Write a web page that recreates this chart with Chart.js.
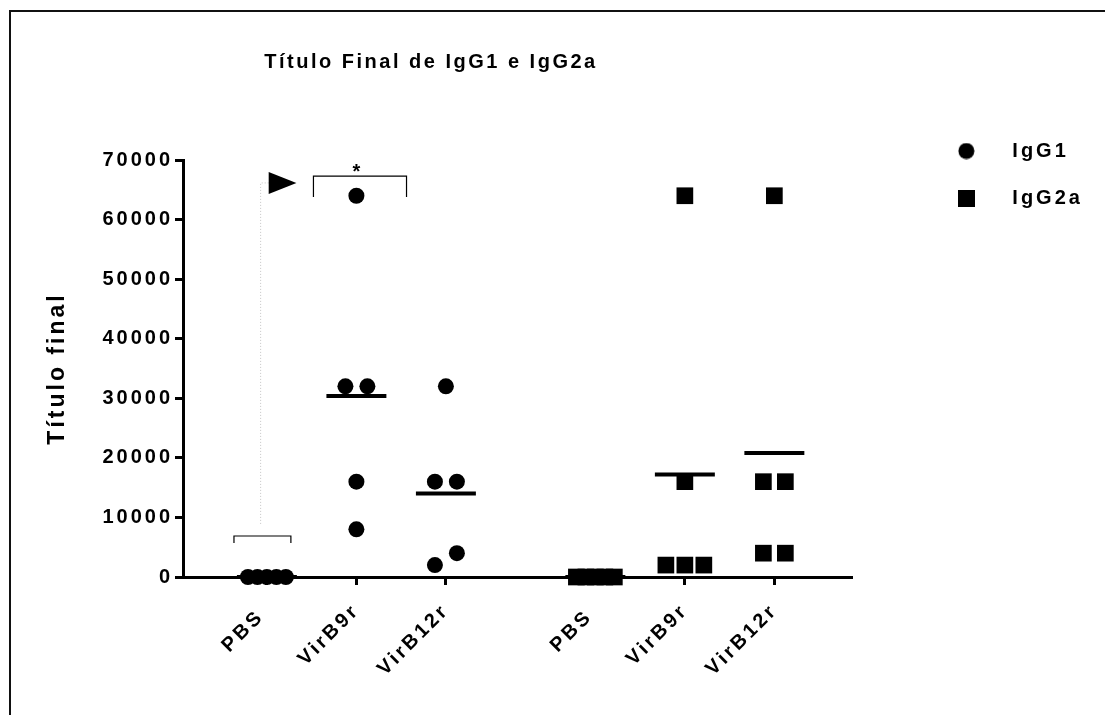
<!DOCTYPE html>
<html>
<head>
<meta charset="utf-8">
<title>Título Final de IgG1 e IgG2a</title>
<script src="https://cdn.jsdelivr.net/npm/chart.js@4.4.1/dist/chart.umd.min.js"></script>
<style>
  html, body { margin: 0; padding: 0; background: #fff; overflow: hidden; }
  #frame { position: absolute; left: 9px; top: 10px; width: 1200px; height: 800px;
           border-left: 2px solid #111; border-top: 2px solid #111; }
  #plot { position: absolute; left: 0; top: 0; }
</style>
</head>
<body>
<div id="frame"></div>
<canvas id="plot" width="1105" height="715"></canvas>
<script>
"use strict";

// values
const categories = ['PBS ', 'VirB9r', 'VirB12r', 'PBS ', 'VirB9r', 'VirB12r'];
const igg1 = [
  [0, 0, 0, 0, 0],
  [64000, 32000, 32000, 16000, 8000],
  [32000, 16000, 16000, 4000, 2000]
];
const igg2a = [
  [0, 0, 0, 0, 0],
  [64000, 16000, 2000, 2000, 2000],
  [64000, 16000, 16000, 4000, 4000]
];
const means = [0, 30400, 14000, 0, 17200, 20800];
const yTicks = [0, 10000, 20000, 30000, 40000, 50000, 60000, 70000];
const seriesNames = ['IgG1', 'IgG2a'];
const titleText = 'Título Final de IgG1 e IgG2a';
const yTitle = 'Título final';

// layout of the columns (x units)
const groupPos = [1, 2, 3, 4.67, 5.67, 6.67];
const pxPerUnit = 89.6;

// spread points that would overlap (like a column scatter)
function spread(values, centre) {
  const sorted = values.slice().sort((a, b) => a - b);
  const out = [];
  let i = 0;
  while (i < sorted.length) {
    let j = i;
    while (j + 1 < sorted.length && sorted[j + 1] - sorted[i] < 3000) j++;
    const n = j - i + 1;
    const step = n > 1 ? Math.min(22, 38 / (n - 1)) / pxPerUnit : 0;
    for (let k = 0; k < n; k++) {
      out.push({x: centre + (k - (n - 1) / 2) * step, y: sorted[i + k]});
    }
    i = j + 1;
  }
  return out;
}

const pts1 = [];
igg1.forEach((vals, g) => pts1.push(...spread(vals, groupPos[g])));
const pts2 = [];
igg2a.forEach((vals, g) => pts2.push(...spread(vals, groupPos[g + 3])));

const meanPts = [];
means.forEach((m, g) => {
  meanPts.push({x: groupPos[g] - 0.335, y: m}, {x: groupPos[g] + 0.335, y: m}, {x: groupPos[g], y: null});
});

// annotations (data coordinates)
const bracketPBS = [{x: 0.632, y: 5700}, {x: 0.632, y: 6880}, {x: 1.268, y: 6880}, {x: 1.268, y: 5700}];
const bracketSig = [{x: 1.52, y: 63800}, {x: 1.52, y: 67300}, {x: 2.56, y: 67300}, {x: 2.56, y: 63800}];
const guide = [{x: 1.02, y: 66150}, {x: 0.93, y: 66150}, {x: 0.93, y: 8700}];
const flag = {x0: 1.02, x1: 1.33, yTop: 68000, yBot: 64300, yTip: 66150};
const star = {x: 2.0, y: 66900};

function icon(kind) {
  const c = document.createElement('canvas');
  c.width = 17; c.height = 17;
  const g = c.getContext('2d');
  g.fillStyle = '#000';
  if (kind === 'circle') { g.beginPath(); g.arc(8.5, 8.5, 8, 0, Math.PI * 2); g.fill(); }
  else g.fillRect(0, 0, 17, 17);
  return c;
}
const legendIcons = [icon('circle'), icon('rect')];

const spacing = {
  id: 'spacing',
  beforeLayout(chart) { chart.ctx.letterSpacing = '3px'; },
  beforeDraw(chart) { chart.ctx.letterSpacing = '3px'; }
};

const extras = {
  id: 'extras',
  afterDatasetsDraw(chart) {
    const ctx = chart.ctx, sx = chart.scales.x, sy = chart.scales.y;
    ctx.save();
    ctx.fillStyle = '#000';
    ctx.beginPath();
    ctx.moveTo(sx.getPixelForValue(flag.x0), sy.getPixelForValue(flag.yTop));
    ctx.lineTo(sx.getPixelForValue(flag.x1), sy.getPixelForValue(flag.yTip));
    ctx.lineTo(sx.getPixelForValue(flag.x0), sy.getPixelForValue(flag.yBot));
    ctx.closePath();
    ctx.fill();
    ctx.letterSpacing = '0px';
    ctx.font = 'bold 20px "Liberation Sans", Arial, sans-serif';
    ctx.textAlign = 'center';
    ctx.textBaseline = 'alphabetic';
    ctx.fillText('*', sx.getPixelForValue(star.x), sy.getPixelForValue(star.y));
    ctx.restore();
  },
  afterDraw(chart) {
    const ctx = chart.ctx;
    ctx.save();
    ctx.font = 'bold 20px "Liberation Sans", Arial, sans-serif';
    ctx.letterSpacing = '2.5px';
    ctx.fillStyle = '#000';
    ctx.textAlign = 'center';
    ctx.textBaseline = 'middle';
    ctx.fillText(titleText, 431, 62);
    ctx.restore();
  }
};

Chart.defaults.font.family = '"Liberation Sans", Arial, sans-serif';
Chart.defaults.font.weight = 'bold';
Chart.defaults.font.size = 20;
Chart.defaults.color = '#000';

const axisGrid = {drawOnChartArea: false, drawTicks: true, tickLength: 8, lineWidth: 3, color: '#000'};
const axisBorder = {display: true, width: 3, color: '#000'};

new Chart(document.getElementById('plot'), {
  type: 'scatter',
  data: {
    datasets: [
      {label: seriesNames[0], data: pts1, pointStyle: 'circle', pointRadius: 8, pointHoverRadius: 8,
       backgroundColor: '#000', borderColor: '#000', pointBorderWidth: 0, clip: false},
      {label: seriesNames[1], data: pts2, pointStyle: 'rect', pointRadius: 11.8, pointHoverRadius: 11.8,
       backgroundColor: '#000', borderColor: '#000', pointBorderWidth: 0, clip: false},
      {type: 'line', label: 'mean', data: meanPts, borderColor: '#000', borderWidth: 4,
       pointRadius: 0, fill: false, spanGaps: false, clip: false},
      {type: 'line', label: 'b1', data: bracketPBS, borderColor: '#000', borderWidth: 1.2,
       pointRadius: 0, fill: false, clip: false},
      {type: 'line', label: 'b2', data: bracketSig, borderColor: '#000', borderWidth: 1.2,
       pointRadius: 0, fill: false, clip: false},
      {type: 'line', label: 'g', data: guide, borderColor: '#c4c4c4', borderWidth: 1, borderDash: [1, 2],
       pointRadius: 0, fill: false, clip: false}
    ]
  },
  options: {
    responsive: false,
    animation: false,
    devicePixelRatio: 1,
    layout: {padding: {top: 114, left: 0, right: 21, bottom: 0}},
    scales: {
      x: {
        type: 'linear', min: 0.0625, max: 7.53,
        afterBuildTicks: s => { s.ticks = groupPos.map(v => ({value: v})); },
        afterFit: s => { s.height = 138; },
        ticks: {autoSkip: false, minRotation: 45, maxRotation: 45, padding: 14,
                callback: (v, i) => categories[i]},
        grid: axisGrid,
        border: axisBorder
      },
      y: {
        min: 0, max: 70000,
        afterBuildTicks: s => { s.ticks = yTicks.map(v => ({value: v})); },
        afterFit: s => { s.width = 183; },
        ticks: {padding: 2, callback: v => String(v)},
        grid: axisGrid,
        border: axisBorder,
        title: {display: true, text: yTitle, font: {size: 23, weight: 'bold'}, padding: {top: 44, bottom: 0}}
      },
      x2: {
        type: 'linear', position: 'top', display: true,
        grid: {display: false}, border: {display: false}, ticks: {display: false},
        afterFit: s => { s.height = 46; }
      },
      y2: {
        type: 'linear', position: 'right', display: true,
        grid: {display: false}, border: {display: false}, ticks: {display: false},
        afterFit: s => { s.width = 52; }
      }
    },
    plugins: {
      title: {display: false},
      tooltip: {enabled: false},
      legend: {
        position: 'right', align: 'start',
        labels: {
          usePointStyle: true, pointStyleWidth: 72, padding: 27,
          font: {size: 20, weight: 'bold'}, color: '#000',
          filter: item => item.datasetIndex < 2,
          generateLabels: chart => Chart.defaults.plugins.legend.labels.generateLabels(chart).map(item => {
            item.pointStyle = legendIcons[item.datasetIndex] || item.pointStyle;
            return item;
          })
        }
      }
    }
  },
  plugins: [spacing, extras]
});
</script>
</body>
</html>
